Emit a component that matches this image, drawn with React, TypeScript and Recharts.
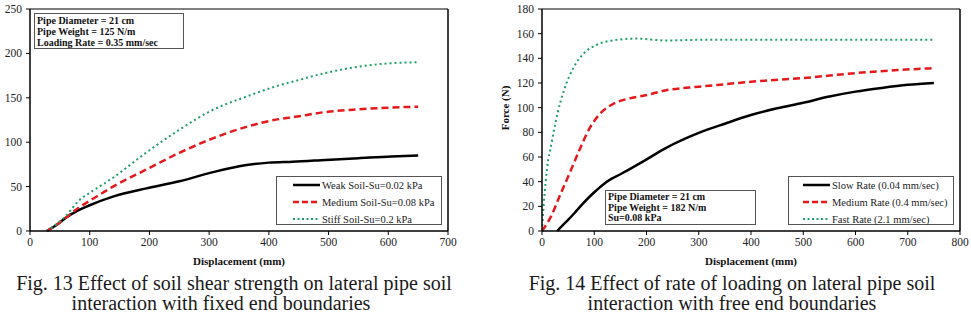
import { LineChart, Line, XAxis, YAxis, ReferenceLine } from "recharts";

const FONT = '"Liberation Serif", "Times New Roman", serif';

// Fig. 13 - displacement (mm) vs force, by soil strength
const weakSoil = [
  { d: 28, f: 0 }, { d: 45, f: 7 }, { d: 60, f: 15 }, { d: 80, f: 23 }, { d: 100, f: 29 },
  { d: 140, f: 39 }, { d: 195, f: 48 }, { d: 250, f: 56 }, { d: 305, f: 66 }, { d: 360, f: 74 },
  { d: 400, f: 77 }, { d: 440, f: 78 }, { d: 495, f: 80 }, { d: 550, f: 82 }, { d: 605, f: 84 },
  { d: 650, f: 85 },
];
const mediumSoil = [
  { d: 28, f: 0 }, { d: 45, f: 7 }, { d: 60, f: 15 }, { d: 83, f: 27 }, { d: 100, f: 34 },
  { d: 139, f: 50 }, { d: 194, f: 69 }, { d: 250, f: 88 }, { d: 305, f: 104 }, { d: 361, f: 117 },
  { d: 417, f: 126 }, { d: 439, f: 128 }, { d: 495, f: 134 }, { d: 550, f: 137 }, { d: 605, f: 139 },
  { d: 650, f: 140 },
];
const stiffSoil = [
  { d: 28, f: 0 }, { d: 45, f: 8 }, { d: 60, f: 17 }, { d: 83, f: 35 }, { d: 100, f: 43 },
  { d: 139, f: 60 }, { d: 194, f: 88 }, { d: 250, f: 114 }, { d: 305, f: 136 }, { d: 361, f: 151 },
  { d: 417, f: 164 }, { d: 439, f: 168 }, { d: 495, f: 178 }, { d: 550, f: 185 }, { d: 605, f: 189 },
  { d: 650, f: 190 },
];
const fig13XTicks = [0, 100, 200, 300, 400, 500, 600, 700];
const fig13YTicks = [0, 50, 100, 150, 200, 250];

// Fig. 14 - displacement (mm) vs force (N), by loading rate
const slowRate = [
  { d: 29, f: 0 }, { d: 45, f: 7 }, { d: 61, f: 14 }, { d: 80, f: 23 }, { d: 99, f: 31 },
  { d: 124, f: 40 }, { d: 150, f: 46 }, { d: 167, f: 50 }, { d: 198, f: 57.5 }, { d: 236, f: 67 },
  { d: 300, f: 79.5 }, { d: 350, f: 87 }, { d: 400, f: 94 }, { d: 450, f: 99.5 }, { d: 500, f: 104 },
  { d: 550, f: 109 }, { d: 600, f: 113 }, { d: 650, f: 116 }, { d: 700, f: 118.5 }, { d: 750, f: 120 },
];
const mediumRate = [
  { d: 0, f: 0 }, { d: 17, f: 11.6 }, { d: 36, f: 30.5 }, { d: 55, f: 49 }, { d: 74, f: 68 },
  { d: 92, f: 84 }, { d: 111, f: 95 }, { d: 136, f: 103 }, { d: 167, f: 107.5 }, { d: 198, f: 110 },
  { d: 236, f: 114 }, { d: 300, f: 117 }, { d: 350, f: 119 }, { d: 400, f: 121 }, { d: 500, f: 124 },
  { d: 600, f: 128 }, { d: 680, f: 130.5 }, { d: 750, f: 132 },
];
const fastRate = [
  { d: 0, f: 0 }, { d: 3, f: 20 }, { d: 7, f: 40 }, { d: 12, f: 58 }, { d: 16, f: 66 },
  { d: 22, f: 80 }, { d: 30, f: 96 }, { d: 42, f: 114 }, { d: 61, f: 133 }, { d: 80, f: 144 },
  { d: 105, f: 151 }, { d: 143, f: 155 }, { d: 180, f: 156 }, { d: 236, f: 154.5 }, { d: 300, f: 155 },
  { d: 400, f: 155 }, { d: 500, f: 155 }, { d: 600, f: 155 }, { d: 750, f: 155 },
];
const fig14XTicks = [0, 100, 200, 300, 400, 500, 600, 700, 800];
const fig14YTicks = [0, 20, 40, 60, 80, 100, 120, 140, 160, 180];

const BLACK = { color: "#000000", width: 2.5, dash: undefined as string | undefined };
const RED = { color: "#e3191c", width: 2.5, dash: "7 4" };
const GREEN = { color: "#1f9e68", width: 2, dash: "2 3" };

const fig13Series = [
  { name: "Weak Soil-Su=0.02 kPa", data: weakSoil, ...BLACK },
  { name: "Medium Soil-Su=0.08 kPa", data: mediumSoil, ...RED },
  { name: "Stiff Soil-Su=0.2 kPa", data: stiffSoil, ...GREEN },
];
const fig14Series = [
  { name: "Slow Rate (0.04 mm/sec)", data: slowRate, ...BLACK },
  { name: "Medium Rate (0.4 mm/sec)", data: mediumRate, ...RED },
  { name: "Fast Rate (2.1 mm/sec)", data: fastRate, ...GREEN },
];

const tickStyle = { fontFamily: FONT, fontSize: 11.5, fill: "#222" };

type Series = typeof fig13Series;

function LegendBox({ series, left, top, width, lineX }: { series: Series; left: number; top: number; width: number; lineX: number }) {
  return (
    <div
      style={{
        position: "absolute", left, top, width, height: 49, boxSizing: "border-box",
        border: "1px solid #555", background: "#fff", fontFamily: FONT, fontSize: 10.5, color: "#222",
      }}
    >
      {series.map((s, i) => (
        <div key={s.name} style={{ position: "absolute", left: 0, top: 1 + i * 17, height: 14, display: "flex", alignItems: "center" }}>
          <svg width={lineX + 28} height={14} style={{ display: "block" }}>
            <line x1={lineX} x2={lineX + 27} y1={7} y2={7} stroke={s.color} strokeWidth={s.width} strokeDasharray={s.dash ? (s.dash === "2 3" ? "2 2.5" : "6 3") : undefined} />
          </svg>
          <span style={{ marginLeft: 1, whiteSpace: "nowrap" }}>{s.name}</span>
        </div>
      ))}
    </div>
  );
}

function InfoBox({ lines, left, top, width, height, lineHeight }: { lines: string[]; left: number; top: number; width: number; height: number; lineHeight: number }) {
  return (
    <div
      style={{
        position: "absolute", left, top, width, height, boxSizing: "border-box", border: "1px solid #555",
        background: "#fff", fontFamily: FONT, fontSize: 10, fontWeight: "bold", color: "#111",
        padding: "1px 2px", lineHeight: `${lineHeight}px`, whiteSpace: "nowrap",
      }}
    >
      {lines.map((l) => (
        <div key={l}>{l}</div>
      ))}
    </div>
  );
}

function Caption({ text, center, top }: { text: string; center: number; top: number }) {
  return (
    <div
      style={{
        position: "absolute", left: center - 250, top, width: 500, textAlign: "center",
        fontFamily: FONT, fontSize: 20, lineHeight: "20px", color: "#1a1a1a", whiteSpace: "nowrap",
      }}
    >
      {text}
    </div>
  );
}

export default function App() {
  return (
    <div style={{ position: "absolute", left: 0, top: 0, width: 971, height: 320, background: "#fff", overflow: "hidden" }}>
      {/* Fig. 13 */}
      <div style={{ position: "absolute", left: 0, top: 0, width: 460, height: 270 }}>
        <LineChart width={460} height={270} margin={{ top: 9, right: 12, bottom: 3, left: 0 }}>
          <XAxis
            dataKey="d" type="number" domain={[0, 700]} ticks={fig13XTicks} allowDataOverflow
            height={36} tick={tickStyle} tickSize={4} tickMargin={3}
            axisLine={{ stroke: "#000", strokeWidth: 1.5 }} tickLine={{ stroke: "#000" }}
            label={{ value: "Displacement (mm)", position: "insideBottom", offset: 2, style: { fontFamily: FONT, fontSize: 11, fontWeight: "bold", fill: "#111" } }}
          />
          <YAxis
            type="number" domain={[0, 250]} ticks={fig13YTicks} width={30} tick={tickStyle}
            tickSize={4} tickMargin={4} axisLine={{ stroke: "#000", strokeWidth: 1.5 }} tickLine={{ stroke: "#000" }}
          />
          <ReferenceLine y={250} stroke="#000" strokeWidth={1.2} />
          <ReferenceLine x={700} stroke="#000" strokeWidth={1.5} />
          {fig13Series.map((s) => (
            <Line
              key={s.name} data={s.data} dataKey="f" name={s.name} type="monotone" dot={false}
              stroke={s.color} strokeWidth={s.width} strokeDasharray={s.dash} isAnimationActive={false}
            />
          ))}
        </LineChart>
        <InfoBox
          lines={["Pipe Diameter = 21 cm", "Pipe Weight = 125 N/m", "Loading Rate = 0.35 mm/sec"]}
          left={34} top={13} width={150} height={36} lineHeight={11}
        />
        <LegendBox series={fig13Series} left={276} top={176} width={166} lineX={16} />
      </div>

      {/* Fig. 14 */}
      <div style={{ position: "absolute", left: 490, top: 0, width: 481, height: 270 }}>
        <LineChart width={481} height={270} margin={{ top: 9, right: 11, bottom: 3, left: 0 }}>
          <XAxis
            dataKey="d" type="number" domain={[0, 800]} ticks={fig14XTicks} allowDataOverflow
            height={36} tick={tickStyle} tickSize={4} tickMargin={3}
            axisLine={{ stroke: "#000", strokeWidth: 1.5 }} tickLine={{ stroke: "#000" }}
            label={{ value: "Displacement (mm)", position: "insideBottom", offset: 2, style: { fontFamily: FONT, fontSize: 11, fontWeight: "bold", fill: "#111" } }}
          />
          <YAxis
            type="number" domain={[0, 180]} ticks={fig14YTicks} width={52} tick={tickStyle}
            tickSize={4} tickMargin={4} axisLine={{ stroke: "#000", strokeWidth: 1.5 }} tickLine={{ stroke: "#000" }}
            label={{ value: "Force (N)", angle: -90, position: "insideLeft", offset: 15, dy: -12, style: { textAnchor: "middle", fontFamily: FONT, fontSize: 11, fontWeight: "bold", fill: "#111" } }}
          />
          <ReferenceLine y={180} stroke="#000" strokeWidth={1.2} />
          <ReferenceLine x={800} stroke="#000" strokeWidth={1.5} />
          {fig14Series.map((s) => (
            <Line
              key={s.name} data={s.data} dataKey="f" name={s.name} type="monotone" dot={false}
              stroke={s.color} strokeWidth={s.width} strokeDasharray={s.dash} isAnimationActive={false}
            />
          ))}
        </LineChart>
        <InfoBox
          lines={["Pipe Diameter = 21 cm", "Pipe Weight = 182 N/m", "Su=0.08 kPa"]}
          left={115} top={190} width={151} height={35} lineHeight={10.5}
        />
        <LegendBox series={fig14Series} left={298} top={176} width={166} lineX={14} />
      </div>

      <Caption text="Fig. 13 Effect of soil shear strength on lateral pipe soil" center={234} top={273} />
      <Caption text="interaction with fixed end boundaries" center={221} top={293} />
      <Caption text="Fig. 14 Effect of rate of loading on lateral pipe soil" center={732} top={273} />
      <Caption text="interaction with free end boundaries" center={732} top={293} />
    </div>
  );
}
